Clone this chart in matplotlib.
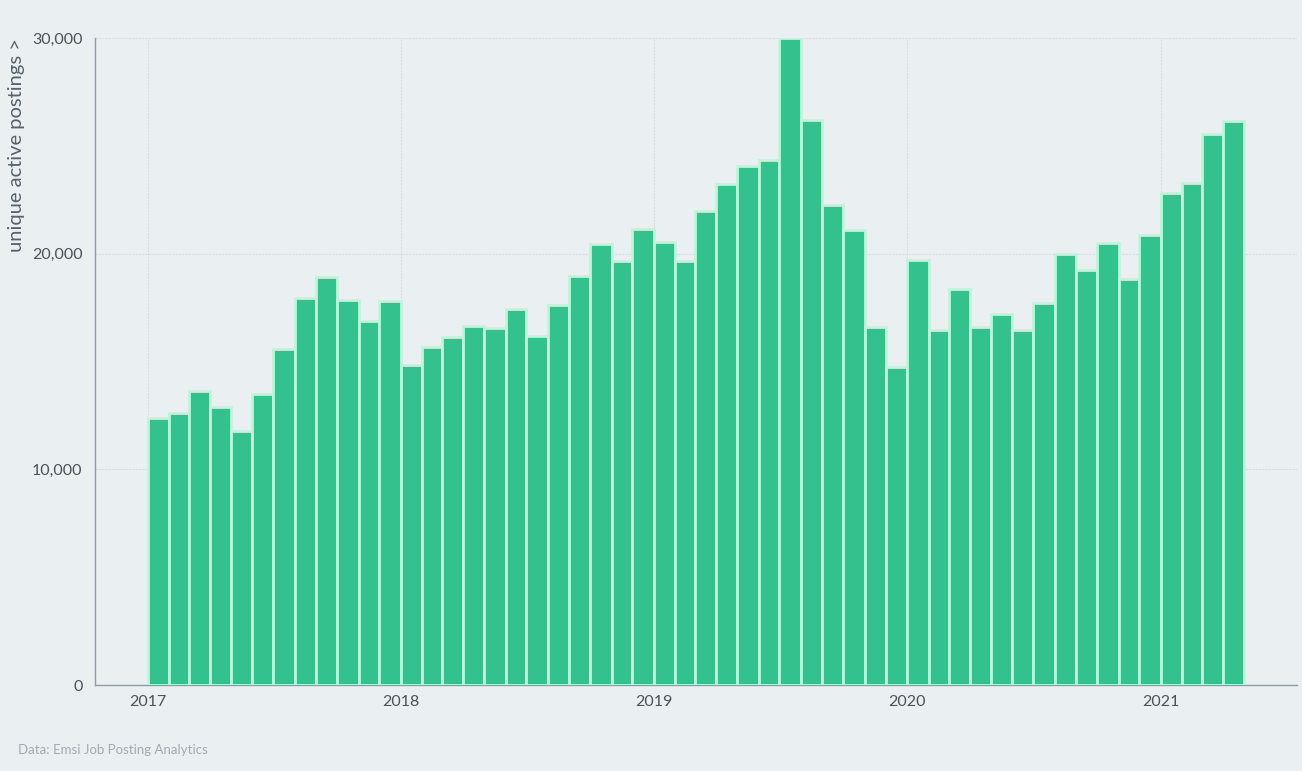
import matplotlib
matplotlib.use("Agg")
import matplotlib.pyplot as plt
import matplotlib.ticker as mticker
import pandas as pd

# monthly unique active postings, Jan 2017 - Apr 2021
months = pd.date_range("2017-01-01", periods=52, freq="MS")
postings = [
    12380, 12600, 13630, 12890, 11780, 13490, 15580, 17940, 18920, 17850, 16880, 17800,
    14860, 15670, 16130, 16640, 16550, 17430, 16180, 17640, 18960, 20450, 19660, 21140,
    20560, 19660, 21970, 23230, 24060, 24340, 30000, 26190, 22250, 21090, 16600, 14740,
    19700, 16460, 18360, 16600, 17200, 16460, 17710, 19980, 19240, 20490, 18820, 20860,
    22810, 23270, 25540, 26150,
]
year_ticks = ["2017", "2018", "2019", "2020", "2021"]
y_ticks = [0, 10000, 20000, 30000]

BG = "#eaeff2"
BAR = "#33c28e"
EDGE = "#bff5da"
TEXT = "#56616a"

plt.rcParams["font.family"] = ["Lato", "DejaVu Sans"]

fig = plt.figure(figsize=(13.02, 7.71), dpi=100, facecolor=BG)
ax = fig.add_axes([0.073, 0.1115, 0.923, 0.8393])
ax.set_facecolor(BG)

# each bar covers its whole month; the pale edge makes the gap between bars
widths = [(m + pd.offsets.MonthBegin(1) - m).days for m in months]
ax.bar(months, postings, width=widths, align="edge", color=BAR,
       edgecolor=EDGE, linewidth=2.0, zorder=3)

ax.set_ylim(0, 30000)
ax.set_xlim(pd.Timestamp("2016-10-17"), pd.Timestamp("2021-07-16"))
ax.set_yticks(y_ticks)
ax.yaxis.set_major_formatter(mticker.StrMethodFormatter("{x:,.0f}"))
ax.set_xticks([pd.Timestamp(y + "-01-01") for y in year_ticks])
ax.set_xticklabels(year_ticks)
ax.tick_params(axis="both", length=0, labelsize=11.5, colors="#4a5358")
ax.tick_params(axis="x", pad=7)
ax.tick_params(axis="y", pad=9)

ax.grid(True, color="#d6dde2", linewidth=0.8, linestyle=(0, (2, 1)), zorder=0)

for side in ["top", "right"]:
    ax.spines[side].set_visible(False)
for side in ["left", "bottom"]:
    ax.spines[side].set_color("#8f9ca6")
    ax.spines[side].set_linewidth(1.0)

ax.set_ylabel("unique active postings >", loc="top", fontsize=14.5,
              color=TEXT, labelpad=5)

fig.text(0.0138, 0.019, "Data: Emsi Job Posting Analytics", fontsize=9.5,
         color="#a3abb2", ha="left", va="bottom")

fig.savefig("out.png", dpi=100, facecolor=BG)
